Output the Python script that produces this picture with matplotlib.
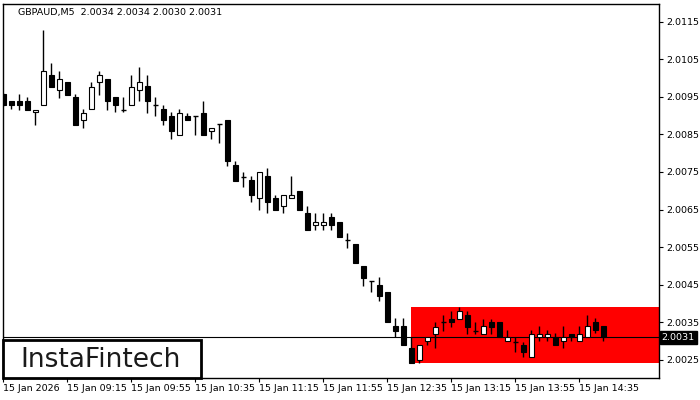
import numpy as np
import matplotlib.pyplot as plt
from matplotlib.patches import Rectangle

# GBPAUD M5 candles, 15 Jan 2026 from 08:35
opens = [2.00957, 2.00939, 2.00939, 2.00939, 2.00910, 2.00928, 2.01008, 2.00968, 2.00989, 2.00950,
         2.00888, 2.00918, 2.00989, 2.00997, 2.00950, 2.00916, 2.00928, 2.00968, 2.00979, 2.00928,
         2.00918, 2.00899, 2.00848, 2.00898, 2.00898, 2.00908, 2.00859, 2.00878, 2.00887, 2.00769,
         2.00738, 2.00729, 2.00680, 2.00739, 2.00680, 2.00660, 2.00680, 2.00699, 2.00641, 2.00609,
         2.00609, 2.00629, 2.00618, 2.00568, 2.00559, 2.00500, 2.00459, 2.00450, 2.00431, 2.00340,
         2.00340, 2.00282, 2.00250, 2.00301, 2.00320, 2.00350, 2.00360, 2.00360, 2.00370, 2.00328,
         2.00320, 2.00350, 2.00351, 2.00301, 2.00299, 2.00290, 2.00259, 2.00310, 2.00310, 2.00310,
         2.00300, 2.00320, 2.00300, 2.00310, 2.00351, 2.00340]
highs = [2.00960, 2.00939, 2.00957, 2.00950, 2.00916, 2.01128, 2.01040, 2.01019, 2.00989, 2.00957,
         2.00918, 2.00989, 2.01019, 2.00997, 2.00950, 2.00950, 2.01008, 2.01029, 2.01008, 2.00950,
         2.00928, 2.00910, 2.00918, 2.00908, 2.00898, 2.00939, 2.00868, 2.00878, 2.00887, 2.00778,
         2.00750, 2.00739, 2.00749, 2.00761, 2.00689, 2.00688, 2.00739, 2.00699, 2.00660, 2.00640,
         2.00640, 2.00640, 2.00618, 2.00589, 2.00559, 2.00500, 2.00459, 2.00471, 2.00431, 2.00362,
         2.00362, 2.00310, 2.00289, 2.00310, 2.00351, 2.00370, 2.00380, 2.00391, 2.00380, 2.00351,
         2.00360, 2.00360, 2.00351, 2.00330, 2.00310, 2.00299, 2.00330, 2.00340, 2.00330, 2.00321,
         2.00340, 2.00320, 2.00340, 2.00370, 2.00362, 2.00340]
lows = [2.00926, 2.00918, 2.00916, 2.00916, 2.00876, 2.00928, 2.00977, 2.00948, 2.00956, 2.00876,
        2.00868, 2.00918, 2.00956, 2.00916, 2.00910, 2.00910, 2.00928, 2.00938, 2.00908, 2.00898,
        2.00876, 2.00838, 2.00848, 2.00887, 2.00848, 2.00848, 2.00839, 2.00828, 2.00767, 2.00727,
        2.00709, 2.00669, 2.00648, 2.00640, 2.00648, 2.00640, 2.00680, 2.00648, 2.00597, 2.00597,
        2.00597, 2.00597, 2.00578, 2.00549, 2.00509, 2.00448, 2.00430, 2.00408, 2.00350, 2.00311,
        2.00289, 2.00242, 2.00242, 2.00290, 2.00281, 2.00328, 2.00339, 2.00360, 2.00320, 2.00320,
        2.00320, 2.00320, 2.00310, 2.00301, 2.00270, 2.00259, 2.00259, 2.00300, 2.00300, 2.00289,
        2.00281, 2.00300, 2.00300, 2.00310, 2.00321, 2.00300]
closes = [2.00928, 2.00927, 2.00927, 2.00916, 2.00916, 2.01019, 2.00977, 2.00997, 2.00956, 2.00876,
          2.00908, 2.00977, 2.01007, 2.00938, 2.00927, 2.00916, 2.00977, 2.00989, 2.00938, 2.00928,
          2.00887, 2.00858, 2.00908, 2.00887, 2.00898, 2.00848, 2.00868, 2.00878, 2.00778, 2.00727,
          2.00738, 2.00688, 2.00749, 2.00669, 2.00648, 2.00688, 2.00688, 2.00648, 2.00597, 2.00618,
          2.00618, 2.00609, 2.00578, 2.00568, 2.00509, 2.00469, 2.00459, 2.00419, 2.00350, 2.00328,
          2.00289, 2.00242, 2.00289, 2.00310, 2.00339, 2.00350, 2.00350, 2.00379, 2.00339, 2.00328,
          2.00340, 2.00339, 2.00310, 2.00310, 2.00299, 2.00270, 2.00320, 2.00320, 2.00320, 2.00289,
          2.00310, 2.00310, 2.00320, 2.00340, 2.00330, 2.00310]

time_labels = ["15 Jan 2026", "15 Jan 09:15", "15 Jan 09:55", "15 Jan 10:35", "15 Jan 11:15",
               "15 Jan 11:55", "15 Jan 12:35", "15 Jan 13:15", "15 Jan 13:55", "15 Jan 14:35"]
price_ticks = [2.0025, 2.0035, 2.0045, 2.0055, 2.0065, 2.0075, 2.0085, 2.0095, 2.0105, 2.0115]

# rectangle pattern (bearish flag / range)
rect_start = 51
rect_low = 2.00242
rect_high = 2.00391
last_price = 2.0031

fig = plt.figure(figsize=(7, 4), dpi=100)
ax = fig.add_axes([2.7/700, 22/400, (659-2.7)/700, (396-22)/400])

ax.add_patch(Rectangle((rect_start, rect_low), 40, rect_high - rect_low,
                       facecolor="#ff0000", edgecolor="none", zorder=1))
ax.axhline(last_price, color="black", lw=0.8, zorder=2)

x = np.arange(len(opens))
o = np.array(opens)
h = np.array(highs)
l = np.array(lows)
c = np.array(closes)
w = 0.56

ax.vlines(x, l, h, color="black", lw=1, zorder=3)
up = c > o
down = c < o
flat = c == o
ax.bar(x[down], (o - c)[down], bottom=c[down], width=w, color="black",
       edgecolor="black", lw=0.8, zorder=4)
ax.bar(x[up], (c - o)[up], bottom=o[up], width=w, color="white",
       edgecolor="black", lw=0.8, zorder=4)
ax.hlines(o[flat], x[flat] - w/2, x[flat] + w/2, color="black", lw=1, zorder=4)

ax.set_xlim(-0.1, 81.94)
ax.set_ylim(2.002021, 2.011968)

ax.yaxis.tick_right()
ax.set_yticks(price_ticks)
ax.set_yticklabels(["%.4f" % p for p in price_ticks])
ax.tick_params(axis="y", length=3, width=0.8, pad=2, labelsize=6.8, colors="black")

ax.set_xticks(range(0, 80, 8))
ax.set_xticklabels(time_labels, ha="left")
ax.tick_params(axis="x", length=3, width=0.8, pad=1.5, labelsize=6.8, colors="black")

for s in ax.spines.values():
    s.set_linewidth(1)
    s.set_color("black")

ax.annotate("%.4f" % last_price, xy=(1, last_price), xycoords=("axes fraction", "data"),
            xytext=(2, 0), textcoords="offset points", ha="left", va="center",
            fontsize=6.8, color="white",
            bbox=dict(boxstyle="square,pad=0.2", fc="black", ec="black"),
            annotation_clip=False)

fig.text(18/700, 1 - 13/400, "GBPAUD,M5  2.0034 2.0034 2.0030 2.0031",
         fontsize=6.8, color="black", va="center", ha="left")

# logo box
fig.patches.append(Rectangle((3/700, 22/400), 198/700, 38/400, transform=fig.transFigure,
                             facecolor="white", edgecolor="black", lw=2, zorder=5))
fig.text(101/700, 1 - 360/400, "InstaFintech", fontsize=19, color="#1a1a1a",
         ha="center", va="center", zorder=6)

fig.savefig("out.png", dpi=100)
